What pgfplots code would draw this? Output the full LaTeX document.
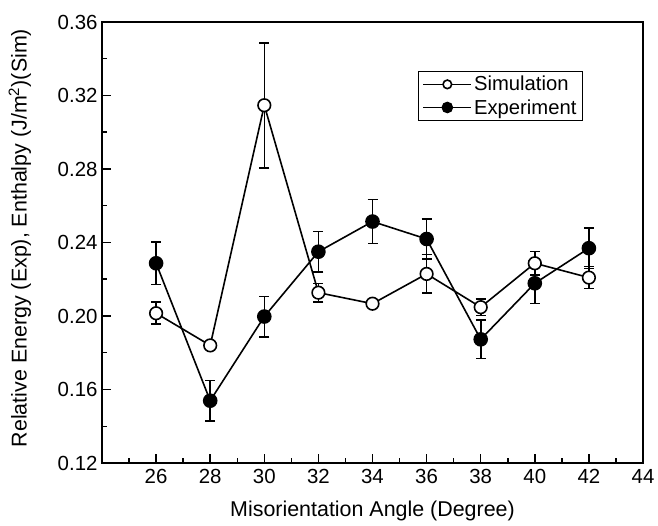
\documentclass[border=0pt]{standalone}
\usepackage{pgfplots}
\pgfplotsset{compat=1.18}
\usepackage{fontspec}
\setmainfont{Liberation Sans}
\begin{document}
\begin{tikzpicture}
\useasboundingbox (-102bp,-63bp) rectangle (556bp,463bp);
\begin{axis}[
 width=541bp, height=441bp, scale only axis,
 xmin=24, xmax=44, ymin=0.12, ymax=0.36,
 xtick={26,28,30,32,34,36,38,40,42,44},
 minor xtick={25,27,29,31,33,35,37,39,41,43},
 ytick={0.12,0.16,0.20,0.24,0.28,0.32,0.36},
 minor ytick={0.14,0.18,0.22,0.26,0.30,0.34},
 xtick pos=bottom, ytick pos=left,
 tick align=inside,
 major tick length=9bp, minor tick length=5bp,
 every tick/.style={black, line width=1.5bp},
 axis line style={line width=1.8bp},
 /pgf/number format/assume math mode=true,
 yticklabel style={xshift=-1bp, /pgf/number format/.cd, fixed, fixed zerofill, precision=2},
 xticklabel style={yshift=-3bp},
 tick label style={font=\fontsize{20.5}{24}\selectfont},
 label style={font=\fontsize{21.5}{25}\selectfont},
 xlabel={Misorientation Angle (Degree)},
 ylabel={Relative Energy (Exp), Enthalpy (J/m\textsuperscript{2})(Sim)},
 xlabel style={at={(axis description cs:0.5,-0.108)}, anchor=center},
 ylabel style={at={(axis description cs:-0.152,0.51)}, anchor=center},
 legend style={at={(axis description cs:0.584,0.8896)}, anchor=north west,
   draw=black, line width=1.2bp, font=\fontsize{20.3}{24}\selectfont,
   inner xsep=4bp, inner ysep=3bp, row sep=3bp},
 legend cell align=left,
]
\addplot[black, line width=1.6bp, mark=*, mark size=6.3bp,
  mark options={fill=white, line width=1.6bp},
  legend image code/.code={\draw[mark repeat=2,mark phase=2,mark size=4.3bp] plot coordinates {(0bp,0bp)(24bp,0bp)(48bp,0bp)};},
  error bars/.cd, y dir=both, y explicit,
  error bar style={line width=1.6bp},
  error mark options={rotate=90, mark size=5bp, line width=1.6bp}]
table[x=x, y=y, y error=e] {
x y e
26 0.2015 0.006
28 0.1840 0.002
30 0.3147 0.034
32 0.2127 0.005
34 0.2067 0.002
36 0.2229 0.0105
38 0.2048 0.0045
40 0.2287 0.0065
42 0.2209 0.006
};
\addlegendentry{Simulation}
\addplot[black, line width=1.6bp, mark=*, mark size=6.5bp,
  mark options={fill=black, line width=1.6bp},
  legend image code/.code={\draw[mark repeat=2,mark phase=2,mark size=5bp] plot coordinates {(0bp,0bp)(24bp,0bp)(48bp,0bp)};},
  error bars/.cd, y dir=both, y explicit,
  error bar style={line width=1.6bp},
  error mark options={rotate=90, mark size=5bp, line width=1.6bp}]
table[x=x, y=y, y error=e] {
x y e
26 0.2287 0.0115
28 0.1539 0.011
30 0.1997 0.011
32 0.2350 0.011
34 0.2514 0.012
36 0.2419 0.011
38 0.1873 0.0105
40 0.2178 0.011
42 0.2369 0.011
};
\addlegendentry{Experiment}
\end{axis}
\end{tikzpicture}
\end{document}
